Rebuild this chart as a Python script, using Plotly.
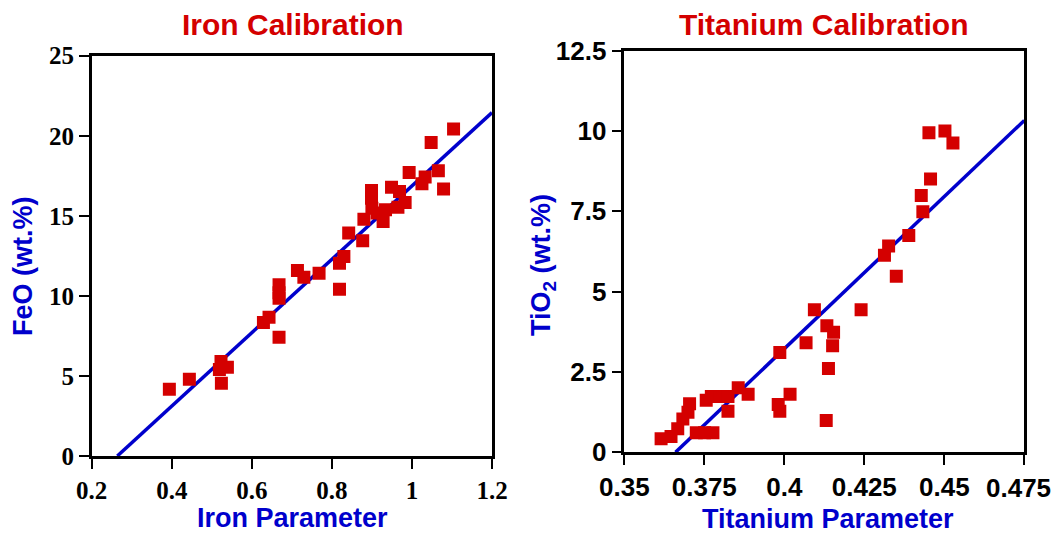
import plotly.graph_objects as go

# ---------------- Iron calibration data ----------------
iron_param = [0.394, 0.444, 0.523, 0.519, 0.539, 0.524, 0.629, 0.643, 0.668, 0.668,
              0.668, 0.668, 0.714, 0.730, 0.768, 0.819, 0.819, 0.830, 0.842, 0.877,
              0.880, 0.899, 0.899, 0.900, 0.913, 0.928, 0.934, 0.949, 0.965, 0.969,
              0.983, 0.993, 1.025, 1.033, 1.066, 1.079, 1.048, 1.104]
feo_wt = [4.17, 4.79, 5.90, 5.40, 5.54, 4.54, 8.33, 8.67, 7.42, 10.69,
          10.20, 9.85, 11.58, 11.17, 11.42, 10.42, 12.04, 12.46, 13.92, 13.44,
          14.79, 16.58, 16.10, 15.48, 15.17, 14.65, 15.38, 16.79, 15.54, 16.52,
          15.83, 17.71, 17.00, 17.42, 17.81, 16.67, 19.58, 20.42]
iron_fit_x = [0.264, 1.2]
iron_fit_y = [0.0, 21.45]
iron_xticks = [0.2, 0.4, 0.6, 0.8, 1.0, 1.2]
iron_xtext = ["0.2", "0.4", "0.6", "0.8", "1", "1.2"]
iron_yticks = [0, 5, 10, 15, 20, 25]
iron_ytext = ["0", "5", "10", "15", "20", "25"]

# ---------------- Titanium calibration data ----------------
ti_param = [0.3615, 0.3646, 0.3667, 0.3683, 0.3699, 0.3704, 0.3725, 0.3751, 0.3777, 0.3756,
            0.3772, 0.3798, 0.3824, 0.3824, 0.3856, 0.3887, 0.3986, 0.3981, 0.3986, 0.4018,
            0.4068, 0.4094, 0.4133, 0.4154, 0.4151, 0.4138, 0.4131, 0.4240, 0.4313, 0.4326,
            0.4350, 0.4389, 0.4428, 0.4433, 0.4457, 0.4452, 0.4502, 0.4527]
tio2_wt = [0.42, 0.49, 0.73, 1.04, 1.25, 1.51, 0.61, 0.61, 0.61, 1.62,
           1.74, 1.74, 1.28, 1.74, 2.01, 1.81, 3.11, 1.49, 1.28, 1.81,
           3.41, 4.44, 3.94, 3.74, 3.32, 2.61, 0.99, 4.44, 6.13, 6.42,
           5.48, 6.75, 7.99, 7.49, 8.51, 9.95, 10.00, 9.63]
ti_fit_x = [0.3660, 0.475]
ti_fit_y = [0.0, 10.33]
ti_xticks = [0.35, 0.375, 0.4, 0.425, 0.45, 0.475]
ti_xtext = ["0.35", "0.375", "0.4", "0.425", "0.45", "0.475"]
ti_yticks = [0, 2.5, 5, 7.5, 10, 12.5]
ti_ytext = ["0", "2.5", "5", "7.5", "10", "12.5"]

RED = "#d40000"
BLUE = "#0000cc"
OFF = 8                      # page body margin
W, H = 1060 - OFF, 535 - OFF

def px(x):
    return (x - OFF) / W

def py(y):
    return 1 - (y - OFF) / H

fig = go.Figure()
marker = dict(symbol="square", size=13, color=RED, line=dict(width=0))

fig.add_trace(go.Scatter(x=iron_fit_x, y=iron_fit_y, mode="lines",
                         line=dict(color=BLUE, width=3.5), xaxis="x", yaxis="y",
                         showlegend=False, hoverinfo="skip"))
fig.add_trace(go.Scatter(x=iron_param, y=feo_wt, mode="markers", marker=marker,
                         xaxis="x", yaxis="y", showlegend=False))
fig.add_trace(go.Scatter(x=ti_fit_x, y=ti_fit_y, mode="lines",
                         line=dict(color=BLUE, width=3.5), xaxis="x2", yaxis="y2",
                         showlegend=False, hoverinfo="skip"))
fig.add_trace(go.Scatter(x=ti_param, y=tio2_wt, mode="markers", marker=marker,
                         xaxis="x2", yaxis="y2", showlegend=False))

serif_tick = dict(family="Liberation Serif", size=25, color="black", weight="bold")
sans_tick = dict(family="Liberation Sans", size=26, color="black", weight="bold")
common = dict(showline=True, linecolor="black", linewidth=2.5, mirror=True,
              ticks="outside", ticklen=10, tickwidth=2, tickcolor="black",
              showgrid=False, zeroline=False, fixedrange=True, automargin=False)

# last Ti tick label is drawn separately (nudged left so it stays inside the page)
ti_xtext_axis = ti_xtext[:-1] + [""]

fig.update_layout(
    width=W, height=H,
    margin=dict(l=0, r=0, t=0, b=0, autoexpand=False),
    paper_bgcolor="white", plot_bgcolor="white",
    xaxis=dict(domain=[px(91.7), px(492)], range=[0.2, 1.2], anchor="y",
               tickvals=iron_xticks, ticktext=iron_xtext, tickfont=serif_tick, **common),
    yaxis=dict(domain=[py(456), py(55.7)], range=[0, 25], anchor="x",
               tickvals=iron_yticks, ticktext=iron_ytext, tickfont=serif_tick, **common),
    xaxis2=dict(domain=[px(624.3), px(1024.3)], range=[0.35, 0.475], anchor="y2",
                tickvals=ti_xticks, ticktext=ti_xtext_axis, tickfont=sans_tick, **common),
    yaxis2=dict(domain=[py(452.3), py(50.7)], range=[0, 12.5], anchor="x2",
                tickvals=ti_yticks, ticktext=ti_ytext, tickfont=sans_tick, **common),
)

fig.add_annotation(text=ti_xtext[-1], x=ti_xticks[-1], xref="x2", y=py(488), yref="paper",
                   xanchor="center", yanchor="middle", xshift=-6, showarrow=False,
                   font=sans_tick, borderpad=0)

title_font = dict(family="Liberation Sans", size=30, color=RED, weight="bold")
label_font = dict(family="Liberation Sans", size=27, color=BLUE, weight="bold")

def ann(text, x, y, font, angle=0):
    fig.add_annotation(text=text, x=px(x), y=py(y), xref="paper", yref="paper",
                       xanchor="center", yanchor="middle", showarrow=False,
                       font=font, textangle=angle, borderpad=0)

ann("Iron Calibration", 293, 25, title_font)
ann("Titanium Calibration", 823, 24, title_font)
ann("Iron Parameter", 292, 518, label_font)
ann("Titanium Parameter", 828, 519, label_font)
ann("FeO (wt.%)", 23, 266, label_font, -90)
ann("TiO<sub>2</sub> (wt.%)", 543, 265, label_font, -90)

fig.write_html("out.html")
